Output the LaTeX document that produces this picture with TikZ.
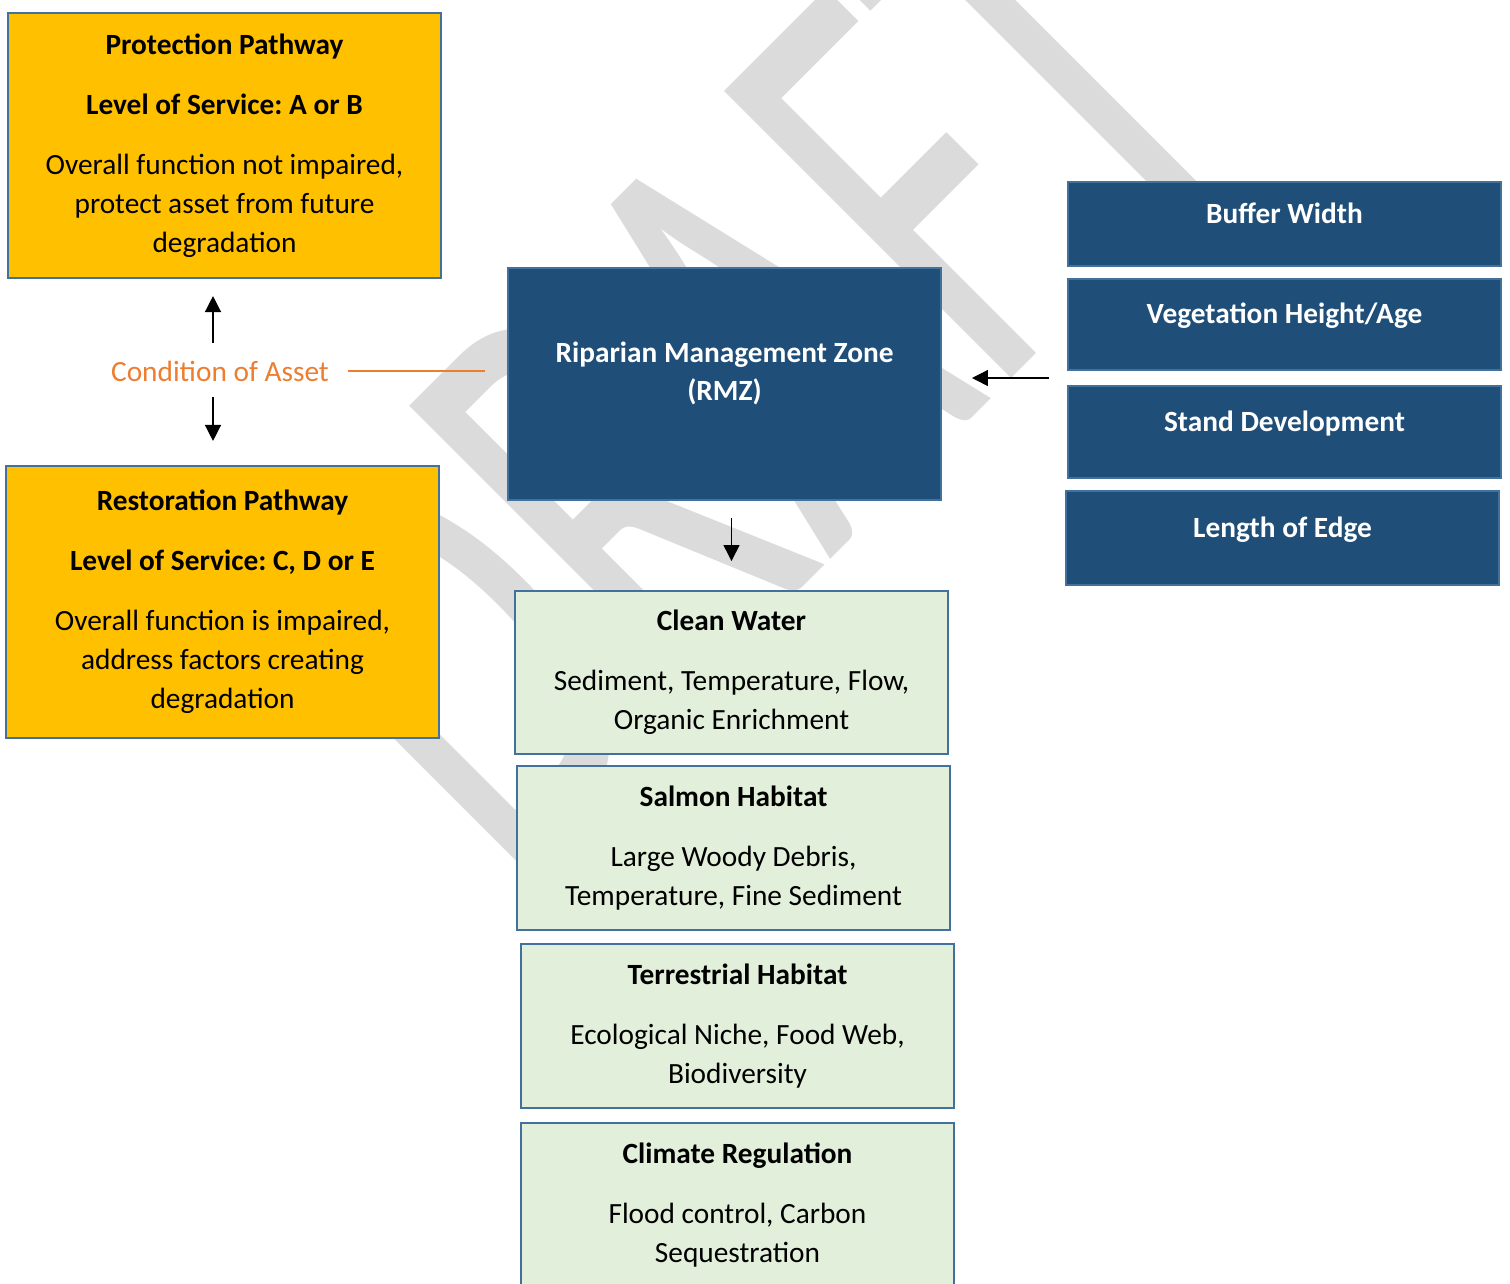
\documentclass[tikz,border=0pt]{standalone}
\usepackage{fontspec}
\setmainfont{Carlito}
\newfontfamily\wmfont[Kerning=Off]{Carlito}
\usetikzlibrary{arrows.meta,positioning,calc}
\definecolor{gold}{HTML}{FFC000}
\definecolor{edgeblue}{HTML}{41719C}
\definecolor{zoneblue}{HTML}{1F4E79}
\definecolor{paleGreen}{HTML}{E2EFDA}
\definecolor{assetOrange}{HTML}{ED7D31}
\frenchspacing

\begin{document}
\begin{tikzpicture}[x=0.375pt, y=-0.375pt,
    font=\fontsize{11}{14.6}\selectfont,
    box/.style={draw=edgeblue, line width=0.9pt, outer sep=0pt, minimum width=162.4pt, align=center, inner sep=2pt},
    pathway/.style={box, fill=gold},
    zone/.style={box, fill=zoneblue, text=white, font=\fontsize{11}{14.6}\selectfont\bfseries},
    factor/.style={zone, text height=8pt, text depth=8.5pt},
    service/.style={box, fill=paleGreen, minimum height=61.5pt},
    arr/.style={-{Triangle[length=6pt,width=6pt]}, line width=0.5pt}]
        \useasboundingbox (0,0) rectangle (1510,1283);
        % watermark
        \node[text=black!14, font=\wmfont\fontsize{149.25}{150}\selectfont, rotate=45, yscale=1.59, anchor=base west, inner sep=0pt] (draft) at (503,887) {DRAFT};
        % pathways
        \node[pathway, minimum height=99.4pt] (prot) at (224.5,145.5) {\textbf{Protection Pathway}\\[7.9pt]\textbf{Level of Service: A or B}\\[7.9pt]Overall function not impaired,\\protect asset from future\\degradation};
        \node[pathway, minimum height=102pt] (rest) at (222.5,602) {\textbf{Restoration Pathway}\\[7.9pt]\textbf{Level of Service: C, D or E}\\[7.9pt]Overall function is impaired,\\address factors creating\\degradation};
        \node[text=assetOrange, inner sep=0pt] (cond) at (220,371) {Condition of Asset};
        % management zone and its factors
        \node[zone, minimum height=87pt] (rmz) at (724.5,384) {Riparian Management Zone\\(RMZ)\\[-5pt]\mbox{}};
        \node[factor, minimum height=31.5pt] (buffer) at (1284.5,224) {Buffer Width};
        \node[factor, minimum height=34.1pt, below=4.9pt of buffer] (veg) {Vegetation Height/Age};
        \node[factor, minimum height=34.5pt, below=6pt of veg] (stand) {Stand Development};
        \node[factor, minimum height=35.25pt, below=4.9pt of stand, xshift=-0.75pt] (len) {Length of Edge};
        % services
        \node[service, minimum height=61.1pt] (clean) at (731.5,672.5) {\textbf{Clean Water}\\[7.9pt]Sediment, Temperature, Flow,\\Organic Enrichment};
        \node[service, below=4.5pt of clean, xshift=0.75pt] (salmon) {\textbf{Salmon Habitat}\\[7.9pt]Large Woody Debris,\\Temperature, Fine Sediment};
        \node[service, below=5.25pt of salmon, xshift=1.5pt] (terr) {\textbf{Terrestrial Habitat}\\[7.9pt]Ecological Niche, Food Web,\\Biodiversity};
        \node[service, below=5.6pt of terr] (climate) {\textbf{Climate Regulation}\\[7.9pt]Flood control, Carbon\\Sequestration};
        % connectors
        \coordinate (gap) at ($(veg.south west)!.5!(stand.north west)$);
        \draw[arr, shorten >=6.75pt] ($(cond.center)+(-7,-28)$) -- ($(prot.south)+(-11.5,0)$);
        \draw[arr, shorten >=9.4pt] ($(cond.center)+(-7,26)$) -- ($(rest.north)+(-9.5,0)$);
        \draw[assetOrange, line width=0.4pt, shorten >=8.6pt] ($(cond.center)+(128,0)$) -- (cond.center -| rmz.west);
        \draw[arr, shorten <=7.1pt, shorten >=11.6pt] (gap) -- (gap -| rmz.east);
        \draw[arr, shorten <=6.75pt, shorten >=11.25pt] (rmz.south -| clean.north) -- (clean.north);
\end{tikzpicture}
\end{document}
